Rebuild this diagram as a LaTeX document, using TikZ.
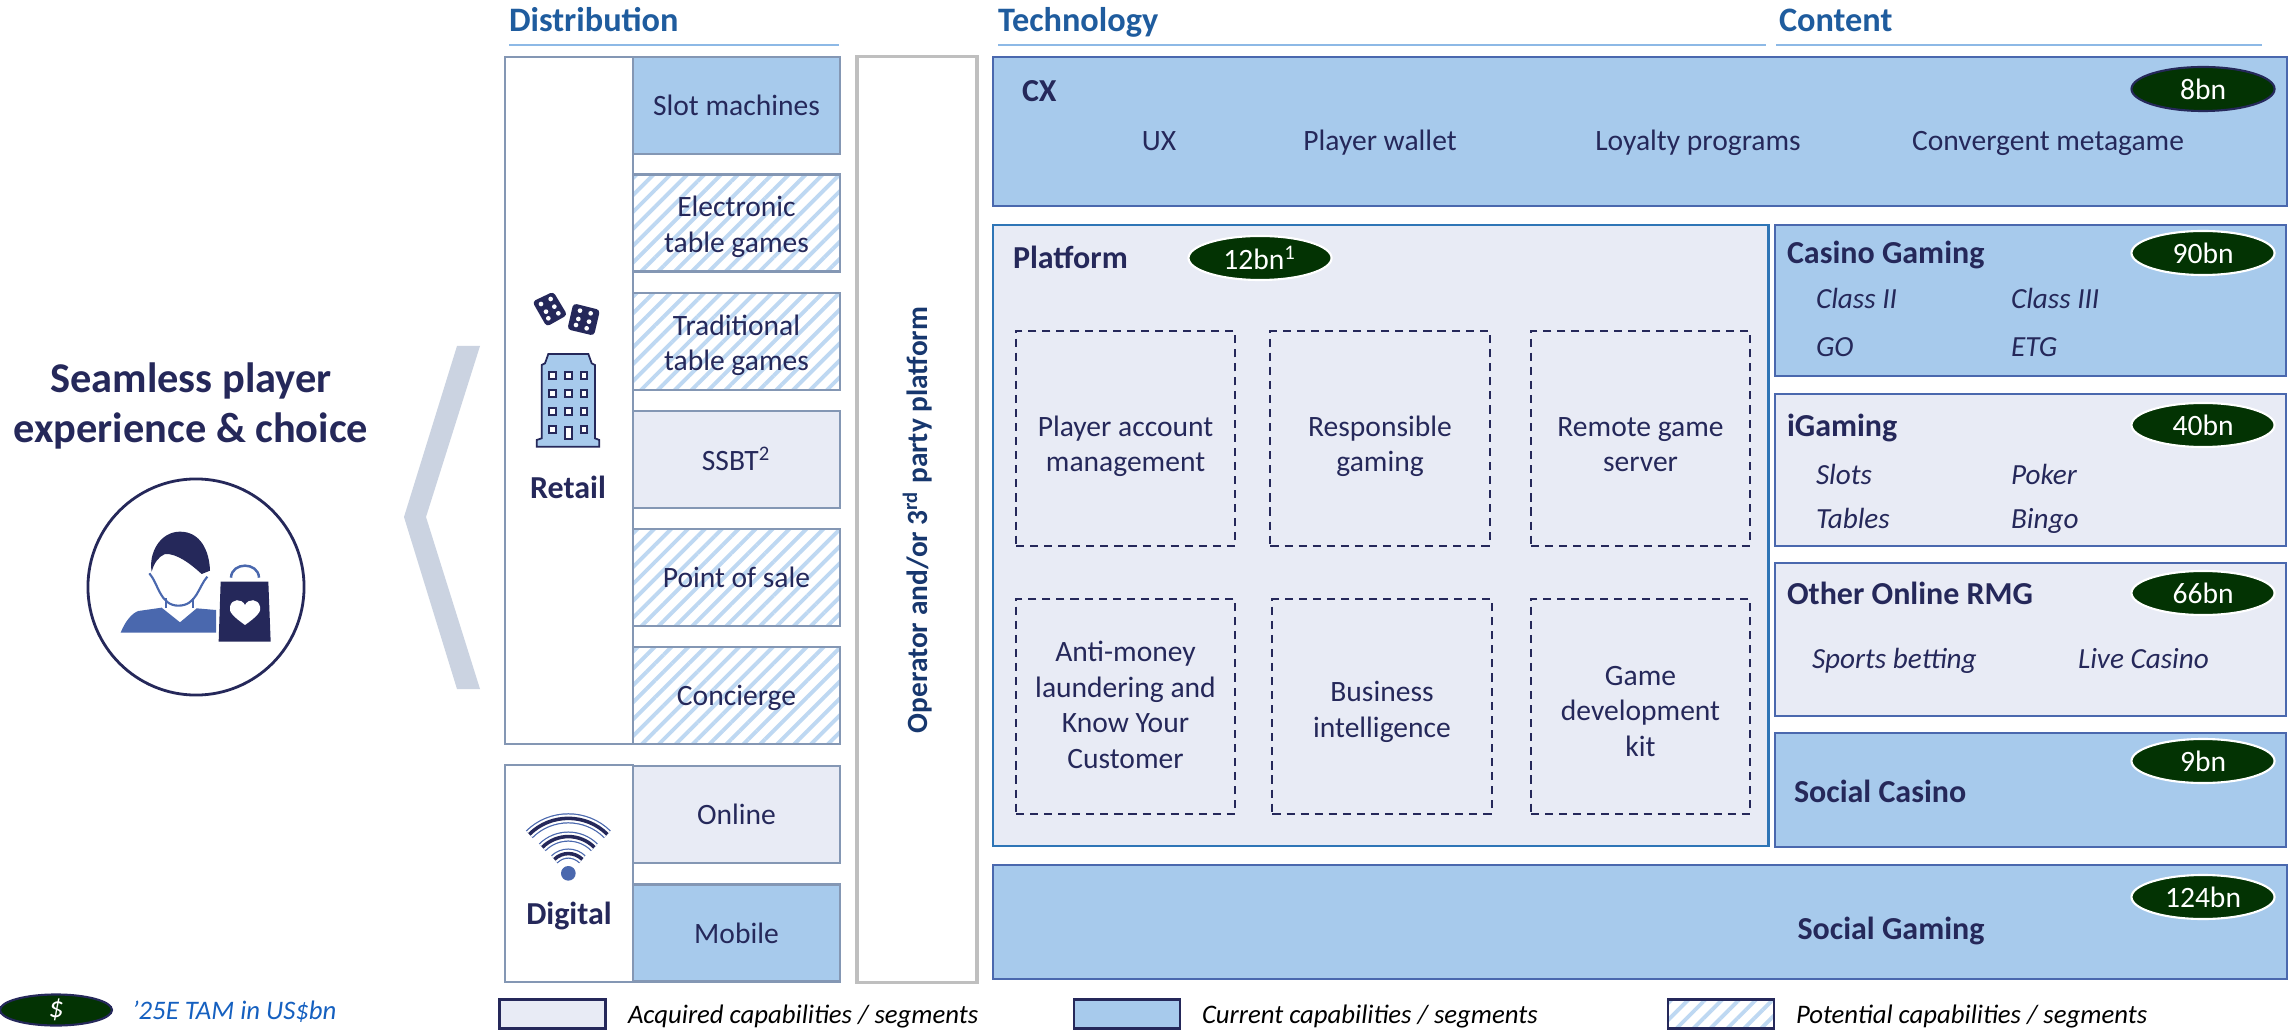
\documentclass[tikz,border=0pt]{standalone}
\usepackage{fontspec}
\setmainfont{Carlito}
\usetikzlibrary{patterns.meta}
\usetikzlibrary{shapes.geometric}
\definecolor{navy}{RGB}{37, 40, 90}
\definecolor{heading}{RGB}{31, 92, 158}
\definecolor{headline}{RGB}{141, 185, 230}
\definecolor{current}{RGB}{167, 202, 236}
\definecolor{acquired}{RGB}{232, 235, 245}
\definecolor{hatchblue}{RGB}{190, 216, 242}
\definecolor{steel}{RGB}{132, 151, 180}
\definecolor{royal}{RGB}{74, 104, 174}
\definecolor{platformline}{RGB}{46, 117, 182}
\definecolor{frame}{RGB}{191, 191, 191}
\definecolor{chevron}{RGB}{203, 211, 225}
\definecolor{pillgreen}{RGB}{3, 51, 3}
\definecolor{tamblue}{RGB}{21, 96, 192}
\definecolor{platformtext}{RGB}{23, 55, 110}
\newcommand{\nodetopstrut}{}
\newcommand{\nodeendstrut}{}
\tikzset{
  drop/.code={\def\nodetopstrut{\rule{0pt}{\dimexpr0.7\baselineskip+#1\relax}}\def\nodeendstrut{\strut}},
  nostrut/.code={\let\nodetopstrut\relax\let\nodeendstrut\relax},
  every node/.style={font=\fontsize{8.4}{10.1}\selectfont, text=navy, align=center, inner sep=0pt, outer sep=0pt, drop=1.7pt,
    execute at begin node=\nodetopstrut, execute at end node=\nodeendstrut},
  hatched/.style={pattern={Lines[angle=45,distance=3.4pt,line width=1.1pt]}, pattern color=hatchblue},
  distbox/.style={draw=steel, line width=0.7pt, minimum width=2.07cm, minimum height=0.97cm},
  seglabel/.style={anchor=west, font=\fontsize{9.1}{11}\selectfont\bfseries},
  sublabel/.style={anchor=west, font=\fontsize{8.3}{10}\selectfont\itshape},
  keylabel/.style={anchor=west, text=black, font=\fontsize{7.6}{9}\selectfont\itshape},
  segbox/.style={draw=royal, line width=0.6pt, anchor=north west},
  dashbox/.style={draw=navy, dash pattern=on 2.3pt off 1.7pt, line width=0.55pt, minimum width=2.19cm, minimum height=2.15cm},
  pill/.style={ellipse, nostrut, fill=pillgreen, draw=white, line width=0.6pt, text=white, minimum width=1.43cm, minimum height=0.44cm},
  headtext/.style={anchor=west, text=heading, font=\fontsize{9.75}{11}\selectfont\bfseries},
  headrule/.style={draw=headline, line width=0.6pt},
  keybox/.style={nostrut, draw=navy, line width=0.6pt, minimum width=1.06cm, minimum height=0.29cm},
}
\begin{document}
\begin{tikzpicture}[x=0.01cm,y=-0.01cm]
  \useasboundingbox (0,0) rectangle (2295,1031);
  \fill[white] (0,0) rectangle (2295,1031);

  % player side
  \node[font=\fontsize{12.05}{14.3}\selectfont\bfseries] (title) at (191,410) {Seamless player\\experience \& choice};
  \node[circle, draw=navy, line width=0.8pt, minimum size=2.16cm] (playerring) at (196,587) {};
  \fill[chevron] (457,346) -- (480,346) -- (426,517) -- (480,689) -- (457,689) -- (404,517) -- cycle;

  \begin{scope}[shift={(0,300)},scale=1/3]
    \fill[navy] (455,815) .. controls (445,760) and (480,695) .. (540,695) .. controls (600,695) and (628,750) .. (630,812) -- (605,822) .. controls (570,790) and (530,760) .. (495,762) .. controls (475,770) and (462,790) .. (455,815) -- cycle;
    \draw[royal, line width=0.6pt] (448,820) .. controls (475,850) and (480,917) .. (535,917) .. controls (590,917) and (595,860) .. (622,830);
    \draw[royal, line width=0.6pt] (497,895) -- (497,925) (580,895) -- (580,925);
    \fill[royal] (362,998) .. controls (375,965) and (395,940) .. (415,933) -- (485,923) -- (540,967) -- (590,925) -- (648,930) -- (648,998) -- cycle;
    \fill[navy] (662,845) -- (805,845) -- (812,1025) -- (656,1025) -- cycle;
    \draw[royal, line width=0.7pt] (693,833) .. controls (695,785) and (775,785) .. (777,833);
    \fill[white] (735,975) .. controls (700,950) and (685,935) .. (690,920) .. controls (695,895) and (725,895) .. (735,915) .. controls (745,895) and (775,895) .. (780,920) .. controls (785,935) and (770,950) .. (735,975) -- cycle;
  \end{scope}

  % distribution
  \node[headtext] (disthead) at (509,21) {Distribution};
  \draw[headrule] (509,45) -- (839,45);
  \node[draw=steel, line width=0.7pt, fill=white, minimum width=1.28cm, minimum height=6.87cm] (retail) at (569,400.5) {};
  \node[draw=steel, line width=0.7pt, fill=white, minimum width=1.28cm, minimum height=2.17cm] (digital) at (569,873.5) {};
  \node[font=\fontsize{9.1}{11}\selectfont\bfseries] (retailtext) at (568,488) {Retail};
  \node[font=\fontsize{9.1}{11}\selectfont\bfseries] (digitaltext) at (569,914) {Digital};

  \node[distbox, fill=current]            (slot)    at (736.5,105.5) {Slot machines};
  \node[distbox, hatched, drop=12.6pt]    (etg)     at (736.5,223)   {Electronic\\table games};
  \node[distbox, hatched, drop=12.6pt]    (ttg)     at (736.5,341.5) {Traditional\\table games};
  \node[distbox, fill=acquired, drop=2.3pt] (ssbt)  at (736.5,459.5) {SSBT\textsuperscript{2}};
  \node[distbox, hatched]                 (pos)     at (736.5,577.5) {Point of sale};
  \node[distbox, hatched]                 (conc)    at (736.5,695.5) {Concierge};
  \node[distbox, fill=acquired]           (online)  at (736.5,814.5) {Online};
  \node[distbox, fill=current]            (mobile)  at (736.5,933)   {Mobile};

  \begin{scope}[shift={(490,0)},scale=1/3]
    \fill[navy, rounded corners=1pt] (127,905) -- (190,875) -- (232,945) -- (170,980) -- cycle;
    \fill[navy, rounded corners=1pt] (250,910) -- (330,930) -- (312,1007) -- (232,988) -- cycle;
    \foreach \px/\py in {153/912,182/897,168/935,193/920,175/955,205/940,270/932,302/940,265/957,297/965,258/975,290/985}
      \fill[white] (\px,\py) circle (7);
    \filldraw[fill=current, draw=navy, line width=0.5pt] (140,1340) -- (140,1320) -- (155,1315) -- (155,1095) -- (165,1090) -- (175,1062) -- (295,1062) -- (305,1090) -- (315,1095) -- (315,1315) -- (328,1320) -- (328,1340) -- cycle;
    \foreach \wx in {188,235,282}
      \foreach \wy in {1127,1181,1235}
        \filldraw[fill=white, draw=navy, line width=0.5pt] (\wx-10,\wy-10) rectangle (\wx+10,\wy+10);
    \foreach \wx in {188,282}
      \filldraw[fill=white, draw=navy, line width=0.5pt] (\wx-10,1278) rectangle (\wx+10,1298);
    \filldraw[fill=white, draw=navy, line width=0.5pt] (225,1280) rectangle (245,1318);
  \end{scope}

  \begin{scope}[shift={(490,680)},scale=1/3]
    \foreach \bandw/\bandc in {2.9pt/royal,2.2pt/white,1pt/navy} {
      \draw[\bandc, line width=\bandw] (118,463) .. controls (182,399) and (288,399) .. (352,463);
      \draw[\bandc, line width=\bandw] (157,502) .. controls (200,459) and (270,459) .. (313,502);
      \draw[\bandc, line width=\bandw] (193,538) .. controls (217,515) and (253,515) .. (277,538);
    }
    \fill[royal] (235,580) circle (22);
  \end{scope}

  % operator platform
  \node[draw=frame, line width=0.9pt, minimum width=1.2cm, minimum height=9.25cm] (operator) at (917,519.5) {};
  \node[rotate=90, text=platformtext, font=\fontsize{8.35}{10}\selectfont\bfseries] (operatortext) at (917,520) {Operator and/or 3\textsuperscript{rd} party platform};

  % technology
  \node[headtext] (techhead) at (998,21) {Technology};
  \draw[headrule] (998,45) -- (1766,45);
  \node[headtext] (conthead) at (1779,21) {Content};
  \draw[headrule] (1776,45) -- (2262,45);

  \node[segbox, fill=current, minimum width=12.93cm, minimum height=1.49cm] (cx) at (993,57) {};
  \node[seglabel] (cxtext) at (1022,91) {CX};
  \node (ux) at (1159,140) {UX};
  \node (wallet) at (1380,140) {Player wallet};
  \node (loyalty) at (1698,140) {Loyalty programs};
  \node (metagame) at (2048,140) {Convergent metagame};
  \node[pill, draw=navy] (tamcx) at (2203,89) {8bn};

  \node[draw=platformline, line width=0.6pt, fill=acquired, anchor=north west, minimum width=7.75cm, minimum height=6.21cm] (platform) at (993,225) {};
  \node[seglabel] (platformhead) at (1013,258) {Platform};
  \node[pill] (tamplat) at (1260,258) {12bn\textsuperscript{1}};
  \node[dashbox, drop=15pt]   (pam)  at (1125.5,438.5) {Player account\\management};
  \node[dashbox, drop=15pt]   (resp) at (1380,438.5)   {Responsible\\gaming};
  \node[dashbox, drop=15pt]   (rgs)  at (1640.5,438.5) {Remote game\\server};
  \node[dashbox, drop=31.1pt] (aml)  at (1125.5,706.5) {Anti-money\\laundering and\\Know Your\\Customer};
  \node[dashbox, drop=13.4pt] (bi)   at (1382,706.5)   {Business\\intelligence};
  \node[dashbox, drop=24.3pt] (gdk)  at (1640.5,706.5) {Game\\development\\kit};

  % content
  \node[segbox, fill=current, minimum width=5.11cm, minimum height=1.51cm] (casino) at (1775,225) {};
  \node[seglabel] (casinotext) at (1787,253) {Casino Gaming};
  \node[pill] (tamcasino) at (2203,253) {90bn};
  \node[sublabel] (class2) at (1816,298.5) {Class II};
  \node[sublabel] (class3) at (2011,298.5) {Class III};
  \node[sublabel] (go)     at (1816,346.5) {GO};
  \node[sublabel] (etgsub) at (2011,346.5) {ETG};

  \node[segbox, fill=acquired, minimum width=5.11cm, minimum height=1.52cm] (igaming) at (1775,394) {};
  \node[seglabel] (igamingtext) at (1787,426) {iGaming};
  \node[pill] (tamigaming) at (2203,425) {40bn};
  \node[sublabel] (slots)  at (1816,474.5) {Slots};
  \node[sublabel] (poker)  at (2011,474.5) {Poker};
  \node[sublabel] (tables) at (1816,518.5) {Tables};
  \node[sublabel] (bingo)  at (2011,518.5) {Bingo};

  \node[segbox, fill=acquired, minimum width=5.11cm, minimum height=1.53cm] (rmg) at (1775,563) {};
  \node[seglabel] (rmgtext) at (1787,594) {Other Online RMG};
  \node[pill] (tamrmg) at (2203,593) {66bn};
  \node[sublabel] (sports) at (1812,658.5) {Sports betting};
  \node[sublabel] (live)   at (2078,658.5) {Live Casino};

  \node[segbox, fill=current, minimum width=5.11cm, minimum height=1.14cm] (social) at (1775,733) {};
  \node[seglabel] (socialtext) at (1794,792) {Social Casino};
  \node[pill] (tamsocial) at (2203,761) {9bn};

  \node[segbox, fill=current, minimum width=12.93cm, minimum height=1.14cm] (gaming) at (993,865) {};
  \node[font=\fontsize{9.1}{11}\selectfont\bfseries] (gamingtext) at (1891,929) {Social Gaming};
  \node[pill] (tamgaming) at (2203,897) {124bn};

  % legend
  \node[pill, draw=navy, minimum width=1.12cm, minimum height=0.29cm, font=\fontsize{8.4}{9}\selectfont\itshape] (keypill) at (56,1010) {\$};
  \node[keylabel, text=tamblue] (keytam) at (132,1010) {'25E TAM in US\$bn};
  \node[keybox, fill=acquired] (keyacq) at (552.5,1014) {};
  \node[keylabel] (keyacqtext) at (628,1014) {Acquired capabilities / segments};
  \node[keybox, fill=current] (keycur) at (1127,1014) {};
  \node[keylabel] (keycurtext) at (1202,1014) {Current capabilities / segments};
  \node[keybox, hatched] (keypot) at (1721,1014) {};
  \node[keylabel] (keypottext) at (1796,1014) {Potential capabilities / segments};
\end{tikzpicture}
\end{document}
